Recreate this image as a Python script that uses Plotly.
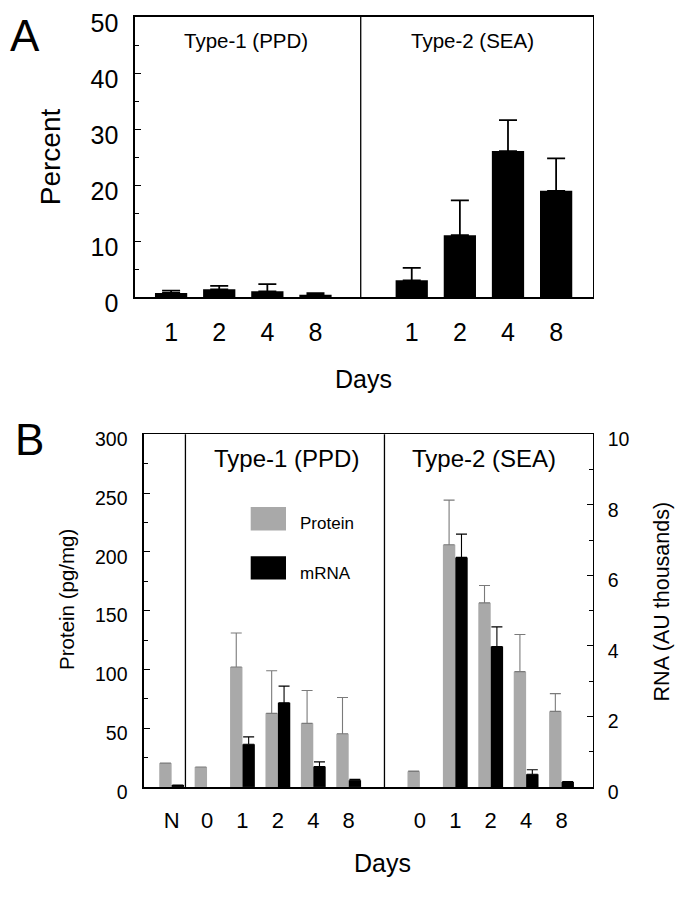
import plotly.graph_objects as go

# ---------------- data ----------------
# Panel A: percent by day
days_a = ["1", "2", "4", "8"]
type1_pct = [0.8, 1.44, 1.09, 0.46]
type1_pct_err = [0.4, 0.63, 1.27, 0.29]
type2_pct = [3.05, 11.1, 26.1, 19.0]
type2_pct_err = [2.2, 6.2, 5.5, 5.8]

# Panel B: protein (pg/mg, left axis) and mRNA (AU thousands, right axis)
days_b = ["N", "0", "1", "2", "4", "8", "0", "1", "2", "4", "8"]
protein = [20.3, 17.0, 102.0, 62.6, 54.1, 45.3, 13.2, 206.0, 156.6, 98.1, 64.3]
protein_err = [None, None, 29.0, 36.3, 28.0, 30.8, 0.4, 38.0, 14.8, 31.6, 15.1]
mrna = [0.055, None, 1.21, 2.39, 0.58, 0.19, None, 6.51, 3.98, 0.36, 0.14]
mrna_err = [None, None, 0.21, 0.47, 0.13, 0.03, None, 0.66, 0.56, 0.13, 0.01]

# ---------------- layout constants ----------------
W, H = 675, 899
FONT = "Liberation Sans, Arial, Helvetica, sans-serif"
GRAY = "#a9a9a9"

# slot positions on numeric x axes
xa_pos = [0.75 + i for i in range(4)] + [5.75 + i for i in range(4)]
xb_pos = [0.78] + [1.78 + i for i in range(5)] + [7.79 + i for i in range(5)]
HALF = 0.175


def px_x(p):
    return p / W


def px_y(p):
    return 1 - p / H


fig = go.Figure()

# Panel A bars
fig.add_trace(go.Bar(
    x=xa_pos, y=type1_pct + type2_pct, width=0.67,
    marker=dict(color="black", line=dict(width=0)),
    error_y=dict(type="data", array=type1_pct_err + type2_pct_err,
                 arrayminus=[0] * 8, symmetric=False,
                 color="black", thickness=1.8, width=9),
    xaxis="x", yaxis="y", showlegend=False, hoverinfo="skip",
))

# Panel B bars
fig.add_trace(go.Bar(
    x=[p - HALF for p in xb_pos], y=protein, width=2 * HALF,
    marker=dict(color=GRAY, line=dict(width=0)),
    error_y=dict(type="data", array=protein_err, arrayminus=[0] * len(protein),
                 symmetric=False, color="#7a7a7a", thickness=1.1, width=5.5),
    xaxis="x2", yaxis="y2", showlegend=False, hoverinfo="skip",
))
fig.add_trace(go.Bar(
    x=[p + HALF for p in xb_pos], y=mrna, width=2 * HALF,
    marker=dict(color="black", line=dict(width=0)),
    error_y=dict(type="data", array=mrna_err, arrayminus=[0] * len(mrna),
                 symmetric=False, color="black", thickness=1.1, width=5.5),
    xaxis="x2", yaxis="y3", showlegend=False, hoverinfo="skip",
))

axis_common = dict(showline=True, linecolor="black", linewidth=1.6, mirror=True,
                   showgrid=False, zeroline=False)

fig.update_layout(
    width=W, height=H,
    margin=dict(l=0, r=0, t=0, b=0),
    paper_bgcolor="white", plot_bgcolor="white",
    barmode="overlay",
    font=dict(family=FONT, color="black"),
    xaxis=dict(domain=[px_x(135), px_x(592.7)], anchor="y", range=[0, 9.51],
               tickvals=xa_pos, ticktext=days_a + days_a, ticks="",
               tickfont=dict(size=25), ticklabelstandoff=12, **axis_common),
    yaxis=dict(domain=[px_y(298.7), px_y(9.3)], anchor="x", range=[0, 50],
               tick0=0, dtick=10, ticks="inside", ticklen=6, tickcolor="black",
               minor=dict(dtick=5, ticks="inside", ticklen=4, tickcolor="black"),
               tickfont=dict(size=25), ticklabelstandoff=10, ticklabelshift=6,
               ticklabeloverflow="allow", **axis_common),
    xaxis2=dict(domain=[px_x(144), px_x(592.7)], anchor="y2", range=[0, 12.67],
                tickvals=xb_pos, ticktext=days_b, ticks="",
                tickfont=dict(size=22), ticklabelstandoff=13, **axis_common),
    yaxis2=dict(domain=[px_y(804), px_y(440)], anchor="x2", range=[0, 300],
                tick0=0, dtick=50, ticks="inside", ticklen=6, tickcolor="black",
                minor=dict(dtick=25, ticks="inside", ticklen=4, tickcolor="black"),
                tickfont=dict(size=19.5), ticklabelstandoff=11, ticklabelshift=5,
                ticklabeloverflow="allow", **axis_common),
    yaxis3=dict(overlaying="y2", anchor="x2", side="right", range=[0, 10],
                tick0=0, dtick=2, ticks="inside", ticklen=6, tickcolor="black",
                minor=dict(dtick=1, ticks="inside", ticklen=4, tickcolor="black"),
                tickfont=dict(size=19.5), ticklabelstandoff=14, ticklabelshift=5,
                ticklabeloverflow="allow",
                showline=False, showgrid=False, zeroline=False),
)

# divider lines
shapes = [
    dict(type="line", xref="x", yref="y domain", x0=4.69, x1=4.69, y0=0, y1=1,
         line=dict(color="black", width=1.3)),
    dict(type="line", xref="x2", yref="y2 domain", x0=1.17, x1=1.17, y0=0, y1=1,
         line=dict(color="black", width=1.3)),
    dict(type="line", xref="x2", yref="y2 domain", x0=6.79, x1=6.79, y0=0, y1=1,
         line=dict(color="black", width=1.3)),
    # legend swatches
    dict(type="rect", xref="paper", yref="paper", x0=px_x(250.7), x1=px_x(286),
         y0=px_y(539.3), y1=px_y(515), fillcolor=GRAY, line=dict(width=0)),
    dict(type="rect", xref="paper", yref="paper", x0=px_x(250.7), x1=px_x(286),
         y0=px_y(590), y1=px_y(566), fillcolor="black", line=dict(width=0)),
]
fig.update_layout(shapes=shapes)


def ann(text, x, y, size, angle=0, xanchor="center"):
    return dict(text=text, x=px_x(x), y=px_y(y), xref="paper", yref="paper",
                showarrow=False, font=dict(size=size, family=FONT, color="black"),
                textangle=angle, xanchor=xanchor, yanchor="middle")


annotations = [
    ann("A", 25, 28, 44),
    ann("B", 29.5, 445, 44),
    ann("Type-1 (PPD)", 246, 34, 20.5),
    ann("Type-2 (SEA)", 472.7, 34, 20.5),
    ann("Percent", 50.5, 153.5, 28, -90),
    ann("Days", 364, 383, 25),
    ann("Type-1 (PPD)", 286.5, 465, 24),
    ann("Type-2 (SEA)", 484, 465, 24),
    ann("Protein", 297.7, 532.5, 17, xanchor="left"),
    ann("mRNA", 297.7, 584, 17, xanchor="left"),
    ann("Protein (pg/mg)", 67, 611, 20.5, -90),
    ann("RNA (AU thousands)", 662, 612.5, 21.5, -90),
    ann("Days", 382, 883, 25),
]
fig.update_layout(annotations=annotations)

# remove the default page margin so the figure sits at the window's corner
fig.write_html(
    "out.html",
    config={"displayModeBar": False, "staticPlot": True},
    post_script="document.body.style.margin='0';document.body.style.overflow='hidden';",
)
